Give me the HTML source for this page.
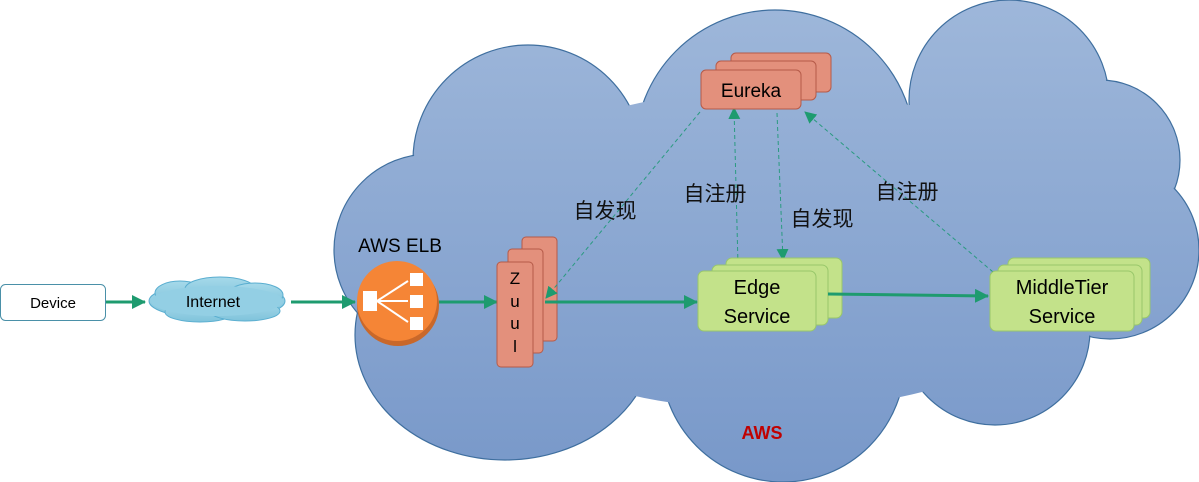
<!DOCTYPE html>
<html><head><meta charset="utf-8"><style>
html,body{margin:0;padding:0;background:#fff;}
svg{display:block;}
text{font-family:"Liberation Sans","Noto Sans CJK SC",sans-serif;}
</style></head><body>
<svg width="1199" height="482" viewBox="0 0 1199 482" xmlns="http://www.w3.org/2000/svg">
<defs>
<linearGradient id="cg" gradientUnits="userSpaceOnUse" x1="0" y1="0" x2="0" y2="482">
<stop offset="0" stop-color="#9eb7da"/><stop offset="1" stop-color="#7898c9"/></linearGradient>
<linearGradient id="ig" x1="0" y1="0" x2="0" y2="1"><stop offset="0" stop-color="#a6d9ea"/><stop offset="1" stop-color="#7fc3db"/></linearGradient>
<marker id="ah" markerWidth="12" markerHeight="12" refX="11" refY="6" orient="auto" markerUnits="userSpaceOnUse"><path d="M0,0 L12,6 L0,12 z" fill="#1e9b6f"/></marker>
<marker id="ah2" markerWidth="14" markerHeight="14" refX="13" refY="7" orient="auto" markerUnits="userSpaceOnUse"><path d="M0,0 L14,7 L0,14 z" fill="#1e9b6f"/></marker>
</defs>
<g fill="url(#cg)" stroke="#3f6f9f" stroke-width="1.2">
<circle cx="528" cy="160" r="115"/>
<circle cx="775" cy="150" r="140"/>
<circle cx="1009" cy="100" r="100"/>
<circle cx="1100" cy="160" r="80"/>
<circle cx="1110" cy="250" r="89"/>
<circle cx="995" cy="330" r="95"/>
<circle cx="783" cy="360" r="122"/>
<ellipse cx="505" cy="335" rx="150" ry="125"/>
<circle cx="430" cy="250" r="96"/>
</g>
<g fill="url(#cg)" stroke="none">
<circle cx="528" cy="160" r="114"/>
<circle cx="775" cy="150" r="139"/>
<circle cx="1009" cy="100" r="99"/>
<circle cx="1100" cy="160" r="79"/>
<circle cx="1110" cy="250" r="88"/>
<circle cx="995" cy="330" r="94"/>
<circle cx="783" cy="360" r="121"/>
<ellipse cx="505" cy="335" rx="149" ry="124"/>
<circle cx="430" cy="250" r="95"/>
<ellipse cx="770" cy="250" rx="330" ry="160"/>
</g>
<rect x="0.5" y="284.5" width="105" height="36" rx="5" fill="#fff" stroke="#4a90a8"/>
<text x="53" y="308" font-size="15" text-anchor="middle" fill="#000">Device</text>
<line x1="106" y1="302" x2="145" y2="302" stroke="#1e9b6f" stroke-width="3" marker-end="url(#ah2)"/>
<g fill="url(#ig)" stroke="#5aaed0" stroke-width="1">
<ellipse cx="217" cy="301" rx="68" ry="18"/>
<ellipse cx="180" cy="293" rx="25" ry="12"/>
<ellipse cx="220" cy="289" rx="35" ry="12"/>
<ellipse cx="255" cy="295" rx="28" ry="12"/>
<ellipse cx="200" cy="312" rx="35" ry="10"/>
<ellipse cx="245" cy="311" rx="35" ry="10"/>
</g>
<ellipse cx="217" cy="301" rx="66" ry="15" fill="#93cfe4"/>
<text x="213" y="307" font-size="16" text-anchor="middle" fill="#000">Internet</text>
<line x1="291" y1="302" x2="355" y2="302" stroke="#1e9b6f" stroke-width="3" marker-end="url(#ah2)"/>
<text x="400" y="252" font-size="19" text-anchor="middle" fill="#000">AWS ELB</text>
<circle cx="398" cy="305" r="41" fill="#c9682a"/>
<circle cx="397" cy="301" r="40" fill="#f58536"/>
<rect x="363" y="291" width="14" height="20" fill="#fff"/>
<rect x="410" y="273" width="13" height="13" fill="#fff"/>
<rect x="410" y="295" width="13" height="13" fill="#fff"/>
<rect x="410" y="317" width="13" height="13" fill="#fff"/>
<g stroke="#fff" stroke-width="2" fill="none"><line x1="377" y1="301" x2="408" y2="281"/><line x1="377" y1="301" x2="408" y2="301"/><line x1="377" y1="301" x2="408" y2="322"/></g>
<line x1="439" y1="302" x2="497" y2="302" stroke="#1e9b6f" stroke-width="3" marker-end="url(#ah2)"/>
<g fill="#e3907c" stroke="#b55a48" stroke-width="1">
<rect x="522" y="237" width="35" height="104" rx="4"/>
<rect x="508" y="249" width="35" height="104" rx="4"/>
<rect x="497" y="262" width="36" height="105" rx="4"/>
</g>
<g font-size="17" text-anchor="middle" fill="#000"><text x="515" y="284">Z</text><text x="515" y="307">u</text><text x="515" y="329">u</text><text x="515" y="352">l</text></g>
<g stroke="#2a9a80" stroke-width="1" stroke-dasharray="4,3" fill="none">
<line x1="700" y1="112" x2="546" y2="298" marker-end="url(#ah)"/>
<line x1="738" y1="265" x2="734" y2="108" marker-end="url(#ah)"/>
<line x1="777" y1="113" x2="783" y2="260" marker-end="url(#ah)"/>
<line x1="993" y1="272" x2="805" y2="112" marker-end="url(#ah)"/>
</g>
<line x1="545" y1="302" x2="697" y2="302" stroke="#1e9b6f" stroke-width="3" marker-end="url(#ah2)"/>
<g fill="#e3907c" stroke="#b55a48" stroke-width="1">
<rect x="731" y="53" width="100" height="39" rx="5"/>
<rect x="716" y="61" width="100" height="39" rx="5"/>
<rect x="701" y="70" width="100" height="39" rx="5"/>
</g>
<text x="751" y="97" font-size="19" text-anchor="middle" fill="#000">Eureka</text>
<g fill="#c3e28a" stroke="#98c76a" stroke-width="1">
<rect x="726" y="258" width="116" height="60" rx="6"/>
<rect x="712" y="265" width="116" height="60" rx="6"/>
<rect x="698" y="271" width="118" height="60" rx="6"/>
</g>
<text x="757" y="294" font-size="20" text-anchor="middle" fill="#000">Edge</text>
<text x="757" y="323" font-size="20" text-anchor="middle" fill="#000">Service</text>
<line x1="828" y1="294" x2="988" y2="296" stroke="#1e9b6f" stroke-width="3" marker-end="url(#ah2)"/>
<g fill="#c3e28a" stroke="#98c76a" stroke-width="1">
<rect x="1008" y="258" width="142" height="60" rx="6"/>
<rect x="998" y="265" width="144" height="60" rx="6"/>
<rect x="990" y="271" width="144" height="60" rx="6"/>
</g>
<text x="1062" y="294" font-size="20" text-anchor="middle" fill="#000">MiddleTier</text>
<text x="1062" y="323" font-size="20" text-anchor="middle" fill="#000">Service</text>
<g font-size="21" fill="#111" text-anchor="middle">
<text x="605" y="218">自发现</text>
<text x="715" y="201">自注册</text>
<text x="822" y="226">自发现</text>
<text x="907" y="199">自注册</text>
</g>
<text x="762" y="439" font-size="18" font-weight="bold" fill="#c00000" text-anchor="middle">AWS</text>
</svg>
</body></html>
